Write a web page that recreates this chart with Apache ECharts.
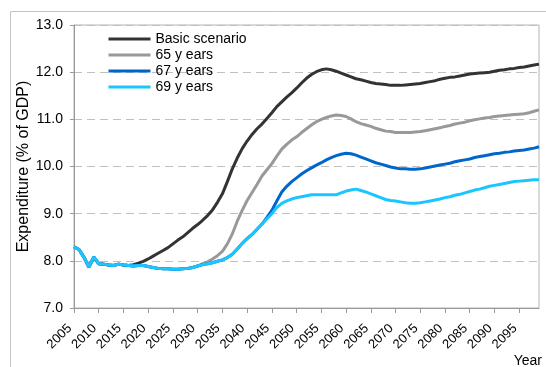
<!DOCTYPE html>
<html>
<head>
<meta charset="utf-8">
<script src="https://cdn.jsdelivr.net/npm/echarts@6/dist/echarts.min.js"></script>
<style>
  html, body { margin: 0; padding: 0; background: #fff; }
  #chart { width: 546px; height: 367px; }
</style>
</head>
<body>
<div id="chart"></div>
<script>
// years 2005..2099, one category per year
var years = [];
for (var y = 2005; y <= 2099; y++) years.push(String(y));

var seriesNames = ['Basic scenario', '65 y ears', '67 y ears', '69 y ears'];
var seriesColors = ['#333333', '#999999', '#0066cc', '#19c6ff'];

var basic = [
    8.30, 8.24, 8.08, 7.87, 8.08, 7.94, 7.93, 7.91, 7.90, 7.93,
    7.91, 7.90, 7.92, 7.95, 7.99, 8.04, 8.10, 8.16, 8.22, 8.28,
    8.36, 8.44, 8.51, 8.60, 8.69, 8.77, 8.86, 8.96, 9.08, 9.24,
    9.42, 9.68, 9.95, 10.18, 10.38, 10.54, 10.68, 10.80, 10.90, 11.02,
    11.14, 11.27, 11.37, 11.47, 11.56, 11.66, 11.77, 11.87, 11.95, 12.01,
    12.05, 12.07, 12.05, 12.02, 11.98, 11.94, 11.90, 11.86, 11.84, 11.81,
    11.78, 11.76, 11.75, 11.74, 11.72, 11.72, 11.72, 11.73, 11.74, 11.75,
    11.76, 11.78, 11.80, 11.82, 11.85, 11.87, 11.89, 11.90, 11.92, 11.94,
    11.96, 11.97, 11.98, 11.99, 12.00, 12.02, 12.04, 12.05, 12.07, 12.08,
    12.10, 12.11, 12.13, 12.15, 12.17
];
var age65 = [
    8.30, 8.24, 8.08, 7.87, 8.08, 7.94, 7.93, 7.91, 7.90, 7.93,
    7.91, 7.90, 7.89, 7.90, 7.90, 7.88, 7.86, 7.84, 7.83, 7.83,
    7.82, 7.82, 7.83, 7.84, 7.86, 7.89, 7.94, 7.98, 8.04, 8.11,
    8.20, 8.36, 8.57, 8.84, 9.07, 9.28, 9.45, 9.62, 9.80, 9.93,
    10.06, 10.22, 10.37, 10.47, 10.56, 10.63, 10.72, 10.80, 10.88, 10.95,
    11.00, 11.04, 11.07, 11.09, 11.08, 11.06, 11.01, 10.95, 10.91, 10.88,
    10.85, 10.81, 10.78, 10.75, 10.74, 10.72, 10.72, 10.72, 10.72, 10.73,
    10.74, 10.76, 10.78, 10.80, 10.82, 10.85, 10.87, 10.90, 10.92, 10.94,
    10.97, 10.99, 11.01, 11.03, 11.04, 11.06, 11.07, 11.08, 11.09, 11.10,
    11.11, 11.12, 11.14, 11.17, 11.20
];
var age67 = [
    8.30, 8.24, 8.08, 7.87, 8.08, 7.94, 7.93, 7.91, 7.90, 7.93,
    7.91, 7.90, 7.89, 7.90, 7.90, 7.88, 7.86, 7.84, 7.83, 7.83,
    7.82, 7.82, 7.83, 7.84, 7.86, 7.89, 7.92, 7.94, 7.96, 7.99,
    8.02, 8.07, 8.14, 8.25, 8.37, 8.47, 8.56, 8.67, 8.78, 8.92,
    9.07, 9.27, 9.46, 9.58, 9.68, 9.76, 9.84, 9.91, 9.97, 10.03,
    10.08, 10.14, 10.19, 10.23, 10.26, 10.28, 10.27, 10.24, 10.20, 10.16,
    10.12, 10.08, 10.05, 10.02, 9.99, 9.97, 9.95, 9.95, 9.94, 9.94,
    9.95, 9.97, 9.99, 10.01, 10.03, 10.05, 10.07, 10.10, 10.12, 10.14,
    10.16, 10.19, 10.21, 10.23, 10.25, 10.27, 10.28, 10.30, 10.31, 10.33,
    10.34, 10.35, 10.37, 10.39, 10.42
];
var age69 = [
    8.30, 8.24, 8.08, 7.87, 8.08, 7.94, 7.93, 7.91, 7.90, 7.93,
    7.91, 7.90, 7.89, 7.90, 7.90, 7.88, 7.86, 7.84, 7.83, 7.83,
    7.82, 7.82, 7.83, 7.84, 7.86, 7.89, 7.92, 7.94, 7.96, 7.99,
    8.02, 8.07, 8.14, 8.25, 8.37, 8.47, 8.56, 8.67, 8.78, 8.89,
    9.00, 9.13, 9.22, 9.27, 9.31, 9.34, 9.36, 9.38, 9.40, 9.40,
    9.40, 9.40, 9.40, 9.40, 9.44, 9.48, 9.50, 9.52, 9.49, 9.46,
    9.42, 9.38, 9.34, 9.30, 9.28, 9.27, 9.25, 9.23, 9.22, 9.22,
    9.23, 9.25, 9.27, 9.29, 9.31, 9.34, 9.36, 9.39, 9.41, 9.44,
    9.47, 9.50, 9.52, 9.55, 9.58, 9.60, 9.62, 9.64, 9.66, 9.68,
    9.69, 9.70, 9.71, 9.72, 9.72
];

var seriesData = [basic, age65, age67, age69];
var font = '"Liberation Sans", Arial, sans-serif';

var myChart = echarts.init(document.getElementById('chart'));
var option = {
    animation: false,
    textStyle: { fontFamily: font },
    graphic: [{
        // outer chart frame (cut off at right/bottom)
        type: 'rect',
        shape: { x: 10.5, y: 11.5, width: 600, height: 400 },
        style: { fill: 'none', stroke: '#c4c4c4', lineWidth: 1 },
        silent: true
    }, {
        type: 'text',
        right: 4,
        top: 354,
        style: { text: 'Year', fill: '#000', font: '14px ' + font }
    }],
    legend: {
        data: seriesNames,
        orient: 'vertical',
        left: 107,
        top: 32,
        padding: 0,
        itemWidth: 42,
        itemHeight: 14,
        itemGap: 2,
        itemStyle: { opacity: 0 },
        lineStyle: { width: 3 },
        textStyle: { color: '#000', fontSize: 14, fontFamily: font }
    },
    grid: {
        left: 74,
        right: 7,
        top: 25,
        bottom: 59,
        show: true,
        borderColor: '#b4b4b4',
        borderWidth: 1
    },
    xAxis: {
        type: 'category',
        data: years,
        boundaryGap: false,
        axisLine: { lineStyle: { color: '#999' } },
        axisTick: { interval: 4, length: 5, lineStyle: { color: '#999' } },
        axisLabel: {
            interval: 4,
            rotate: 45,
            margin: 14,
            padding: [0, 6, 0, 0],
            color: '#000',
            fontSize: 13,
            fontFamily: font
        },
        splitLine: { show: false }
    },
    yAxis: {
        type: 'value',
        min: 7,
        max: 13,
        interval: 1,
        name: 'Expenditure (% of GDP)',
        nameLocation: 'middle',
        nameGap: 42,
        nameMoveOverlap: false,
        nameTextStyle: { color: '#000', fontSize: 16, fontFamily: font },
        axisLine: { show: true, lineStyle: { color: '#999' } },
        axisTick: { show: true, length: 4, lineStyle: { color: '#999' } },
        axisLabel: {
            formatter: function (v) { return v.toFixed(1); },
            color: '#000',
            fontSize: 14,
            margin: 11,
            fontFamily: font
        },
        splitLine: { lineStyle: { color: '#c0c0c0', type: [8, 5] } }
    },
    series: seriesNames.map(function (name, i) {
        return {
            name: name,
            type: 'line',
            data: seriesData[i],
            symbol: 'none',
            smooth: false,
            color: seriesColors[i],
            lineStyle: { width: 3, color: seriesColors[i] }
        };
    })
};
myChart.setOption(option);

window.onresize = function () {
    myChart.resize();
};
</script>
</body>
</html>
